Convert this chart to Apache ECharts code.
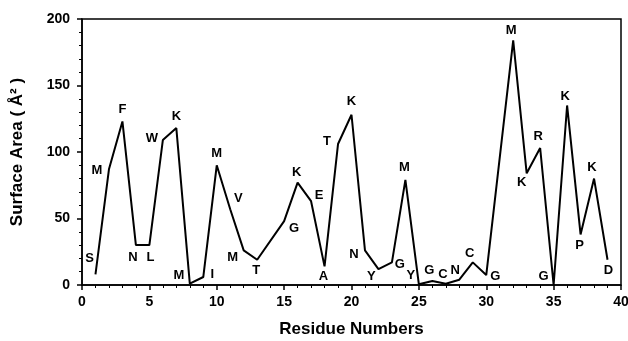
<!DOCTYPE html>
<html>
<head>
  <meta charset="utf-8">
  <style>
    html, body { margin: 0; padding: 0; width: 100%; height: 100%; overflow: hidden; background: #fff; }
  </style>
  <script src="https://cdn.jsdelivr.net/npm/echarts@6/dist/echarts.min.js"></script>
</head>
<body>
  <div id="container" style="width: 628px; height: 341px;"></div>
  <script type="text/javascript">
    // residue positions, surface areas and residue letters
    let residues = [1, 2, 3, 4, 5, 6, 7, 8, 9, 10, 11, 12, 13, 15, 16, 17, 18, 19, 20, 21, 22, 23, 24, 25, 26, 27, 28, 29, 30, 32, 33, 34, 35, 36, 37, 38, 39];
    let areas = [8, 87, 123, 30, 30, 109, 118, 1, 6, 90, 57, 26, 19, 48, 77, 63, 14, 106, 128, 26, 12, 17, 79, 0.5, 3, 1, 4, 17, 7.5, 184, 84, 103, 0, 135, 38, 80, 19];
    let letters = ['S', 'M', 'F', 'N', 'L', 'W', 'K', 'M', 'I', 'M', 'V', 'M', 'T', 'G', 'K', 'E', 'A', 'T', 'K', 'N', 'Y', 'G', 'M', 'Y', 'G', 'C', 'N', 'C', 'G', 'M', 'K', 'R', 'G', 'K', 'P', 'K', 'D'];
    let xTicks = [0, 5, 10, 15, 20, 25, 30, 35, 40];
    let yTicks = [0, 50, 100, 150, 200];

    // where each letter sits relative to its point (pixels)
    let labelOffsets = [
      [-6, -16], [-12, 1], [0, -12], [-3, 12], [1, 12], [-11, -2], [0, -12], [-11, -8], [9, -3], [0, -12],
      [8, -11], [-11, 7], [-1, 11], [10, 7], [-1, -10], [8, -6], [-1, 10], [-11, -3], [0, -13], [-11, 4],
      [-7, 7], [8, 2], [-1, -13], [-8, -9], [-3, -11], [-3, -9], [-4, -9], [-3, -9], [9, 1], [-2, -10],
      [-5, 9], [-2, -12], [-10, -9], [-2, -9], [-1, 11], [-2, -11], [1, 11]
    ];

    var dom = document.getElementById('container');
    var myChart = echarts.init(dom, null, { renderer: 'canvas' });
    var font = 'Liberation Sans, Arial, sans-serif';

    let seriesData = residues.map((x, i) => ({
      value: [x, areas[i]],
      label: {
        show: true,
        formatter: letters[i],
        position: [1 + labelOffsets[i][0], 1 + labelOffsets[i][1]],
        align: 'center',
        verticalAlign: 'middle'
      }
    }));

    var option = {
      animation: false,
      grid: {
        left: 82,
        right: 7,
        top: 19,
        bottom: 56,
        outerBoundsMode: 'none',
        show: true,
        borderColor: '#000',
        borderWidth: 1.5
      },
      xAxis: {
        type: 'value',
        min: xTicks[0],
        max: xTicks[xTicks.length - 1],
        interval: 5,
        name: 'Residue Numbers',
        nameLocation: 'middle',
        nameGap: 36,
        nameTextStyle: { color: '#000', fontSize: 17, fontWeight: 'bold', fontFamily: font },
        axisLine: { show: true, lineStyle: { color: '#000', width: 1.5 } },
        axisTick: { show: true, length: 5, lineStyle: { color: '#000', width: 1.5 } },
        minorTick: { show: true, splitNumber: 5, length: 3, lineStyle: { color: '#000', width: 1 } },
        axisLabel: { color: '#000', fontSize: 14, fontWeight: 'bold', fontFamily: font, margin: 10 },
        splitLine: { show: false }
      },
      yAxis: {
        type: 'value',
        min: yTicks[0],
        max: yTicks[yTicks.length - 1],
        interval: 50,
        name: 'Surface Area ( Å² )',
        nameLocation: 'middle',
        nameGap: 56,
        nameTextStyle: { color: '#000', fontSize: 17, fontWeight: 'bold', fontFamily: font },
        axisLine: { show: true, lineStyle: { color: '#000', width: 1.5 } },
        axisTick: { show: true, length: 5, lineStyle: { color: '#000', width: 1.5 } },
        minorTick: { show: true, splitNumber: 5, length: 3, lineStyle: { color: '#000', width: 1 } },
        axisLabel: { color: '#000', fontSize: 14, fontWeight: 'bold', fontFamily: font, margin: 12 },
        splitLine: { show: false }
      },
      series: [{
        type: 'line',
        data: seriesData,
        symbol: 'rect',
        symbolSize: 2,
        showSymbol: true,
        itemStyle: { color: 'rgba(0,0,0,0)' },
        lineStyle: { color: '#000', width: 2 },
        label: {
          color: '#000',
          fontSize: 13,
          fontWeight: 'bold',
          fontFamily: font
        },
        labelLayout: { hideOverlap: false }
      }]
    };

    myChart.setOption(option);
    window.addEventListener('resize', myChart.resize);
  </script>
</body>
</html>
